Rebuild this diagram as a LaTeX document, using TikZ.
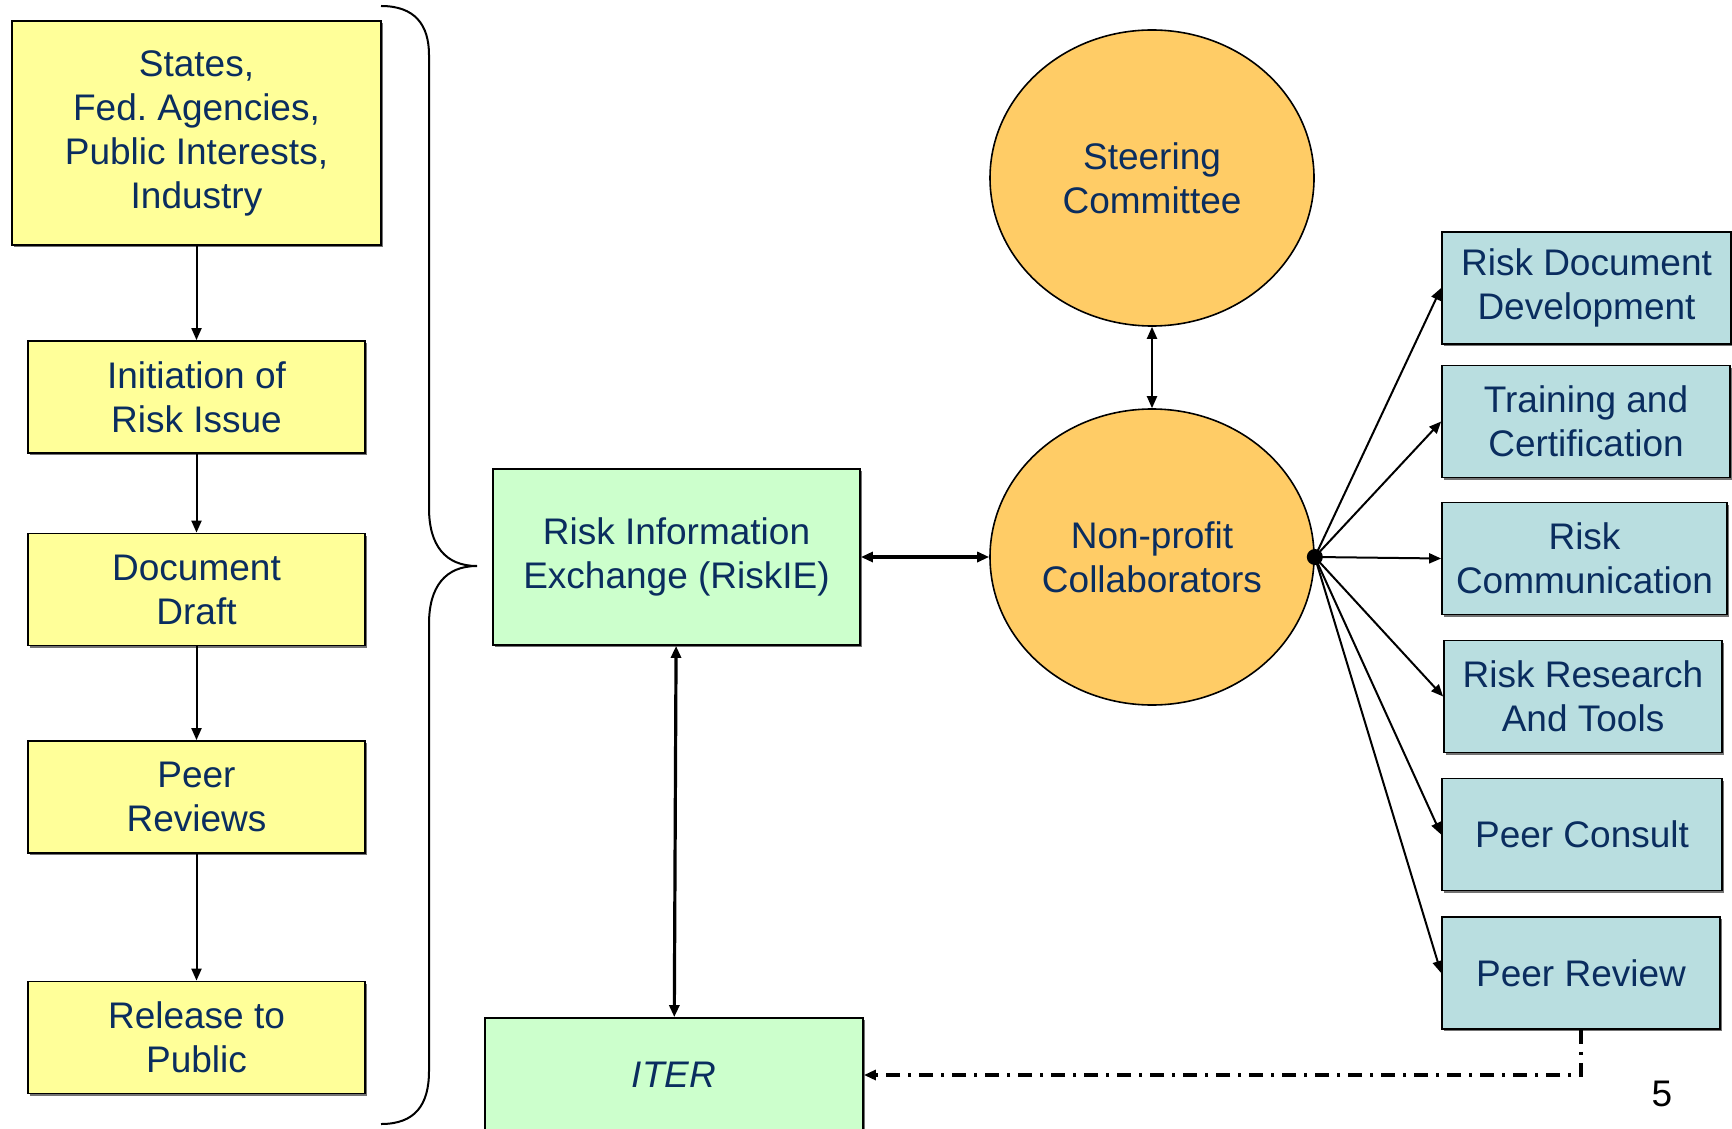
\documentclass[tikz,border=0pt]{standalone}
\usepackage{fontspec}
\setmainfont{Liberation Sans}
\usepackage{xcolor}
\usepackage{tikz}
\usetikzlibrary{shapes,arrows.meta,positioning,shadows}
\definecolor{navy}{RGB}{10,45,95}
\definecolor{boxyellow}{RGB}{255,255,153}
\definecolor{boxgreen}{RGB}{204,255,204}
\definecolor{boxteal}{RGB}{185,222,224}
\definecolor{blobor}{RGB}{255,204,102}
\frenchspacing

\begin{document}
\begin{tikzpicture}[x=0.5pt,y=-0.5pt,
    txt/.style={text=navy,align=center,font=\fontsize{18.5}{22}\selectfont,inner sep=0pt},
    sbox/.style={txt,draw,line width=0.9pt,rectangle,drop shadow={shadow xshift=1pt,shadow yshift=-1pt,fill=black!55,opacity=1}},
    ybox/.style={sbox,fill=boxyellow,minimum width=168.5pt,minimum height=56pt},
    gbox/.style={sbox,fill=boxgreen},
    tbox/.style={sbox,fill=boxteal,minimum height=56pt},
    blob/.style={txt,draw,line width=0.8pt,ellipse,fill=blobor,minimum width=162pt,minimum height=148pt},
    tip/.style={-{Triangle[length=6pt,width=5pt]}},
    tips/.style={{Triangle[length=6pt,width=5pt]}-{Triangle[length=6pt,width=5pt]}}]
    \useasboundingbox (0,0) rectangle (1732,1128);
    % Left column
    \node[ybox,minimum width=184.5pt,minimum height=112pt] (src) at (196.5,133) {States,\\Fed. Agencies,\\Public Interests,\\Industry};
    \node[ybox] (init) at (196.5,397) {Initiation of\\Risk Issue};
    \node[ybox] (draft) at (196.5,589.5) {Document\\Draft};
    \node[ybox] (peer) at (196.5,797) {Peer\\Reviews};
    \node[ybox] (rel) at (196.5,1037.5) {Release to\\Public};
    \draw[tip,line width=1pt] (src) -- (init);
    \draw[tip,line width=1pt] (init) -- (draft);
    \draw[tip,line width=1pt] (draft) -- (peer);
    \draw[tip,line width=1pt] (peer) -- (rel);
    % Brace
    \draw[line width=1pt] (381,6) .. controls (415,6) and (429,25) .. (429,55) -- (429,508)
        .. controls (429,545) and (445,566) .. (477,566)
        .. controls (445,566) and (429,587) .. (429,624) -- (429,1071)
        .. controls (429,1105) and (415,1124) .. (381,1124);
    % Middle
    \node[gbox,minimum width=183.5pt,minimum height=88pt] (riskie) at (676.5,557) {Risk Information\\Exchange (RiskIE)};
    \node[gbox,minimum width=189pt,minimum height=57pt,font=\fontsize{18.5}{22}\selectfont\itshape] (iter) at (674,1075) {ITER};
    \node[blob] (steer) at (1152,178) {Steering\\Committee};
    \node[blob] (np) at (1152,557) {Non-profit\\Collaborators};
    \draw[tips,line width=1pt] (steer) -- (np);
    \draw[tips,line width=1.6pt] (riskie) -- (np);
    \draw[tips,line width=1.6pt] (riskie) -- (iter);
    % Right column
    \node[tbox,minimum width=144.5pt] (rdd) at (1586.5,288) {Risk Document\\Development};
    \node[tbox,minimum width=144pt] (train) at (1586,421.5) {Training and\\Certification};
    \node[tbox,minimum width=142.5pt] (comm) at (1584.5,558.5) {Risk\\Communication};
    \node[tbox,minimum width=139pt] (res) at (1583,696.5) {Risk Research\\And Tools};
    \node[tbox,minimum width=140pt] (cons) at (1582,834.5) {Peer Consult};
    \node[tbox,minimum width=139pt] (rev) at (1581,973) {Peer Review};
    \foreach \b in {rdd,train,comm,res,cons,rev}
        \draw[tip,line width=1pt] (np.east) -- (\b.west);
    \fill (np.east) circle (8);
    % Feedback
    \coordinate (corner) at (rev.south |- iter.east);
    \draw[tip,line width=1.7pt,dash pattern=on 7pt off 4pt on 1.5pt off 4pt] (rev.south) -- (corner) -- (iter.east);
    \node[font=\fontsize{18.5}{22}\selectfont] (pg) at (1662,1094) {5};
\end{tikzpicture}
\end{document}
